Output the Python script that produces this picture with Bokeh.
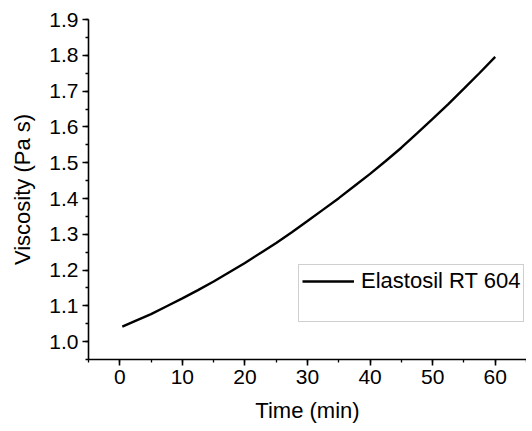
from bokeh.plotting import figure
from bokeh.models import (Range1d, SingleIntervalTicker, NumeralTickFormatter,
                          Legend, LegendItem)
from bokeh.embed import file_html
from bokeh.resources import INLINE

# Data
time_min = [0.4, 2.5, 5, 7.5, 10, 12.5, 15, 17.5, 20, 22.5, 25, 27.5, 30,
            32.5, 35, 37.5, 40, 42.5, 45, 47.5, 50, 52.5, 55, 57.5, 60]
viscosity = [1.042, 1.058, 1.077, 1.099, 1.121, 1.144, 1.168, 1.194, 1.220,
             1.248, 1.276, 1.306, 1.337, 1.369, 1.401, 1.435, 1.469, 1.505,
             1.542, 1.582, 1.623, 1.664, 1.707, 1.751, 1.796]
series_name = "Elastosil RT 604"

FONT = "Liberation Sans"

p = figure(width=526, height=431, output_backend="svg", toolbar_location=None,
           x_range=Range1d(-5, 65.001), y_range=Range1d(0.95, 1.9005),
           min_border_left=88, min_border_right=0, min_border_top=19,
           min_border_bottom=72)
p.outline_line_color = None
p.grid.visible = False
p.background_fill_color = "white"
p.border_fill_color = "white"

main = p.line(time_min, viscosity, line_color="black", line_width=2.4)
dummy = p.line(x=[], y=[], line_alpha=0)

p.xaxis.ticker = SingleIntervalTicker(interval=10, num_minor_ticks=2)
p.yaxis.ticker = SingleIntervalTicker(interval=0.1, num_minor_ticks=2)
p.yaxis.formatter = NumeralTickFormatter(format="0.0")

p.xaxis.axis_label = "Time (min)"
p.yaxis.axis_label = "Viscosity (Pa s)"

for ax in (p.xaxis[0], p.yaxis[0]):
    ax.axis_line_color = "black"
    ax.axis_line_width = 1.6
    ax.major_tick_line_color = "black"
    ax.major_tick_line_width = 1.6
    ax.minor_tick_line_color = "black"
    ax.minor_tick_line_width = 1.3
    ax.major_tick_out = 6
    ax.major_tick_in = 0
    ax.minor_tick_out = 3
    ax.minor_tick_in = 0
    ax.major_label_text_font = FONT
    ax.major_label_text_font_size = "21px"
    ax.major_label_text_color = "black"
    ax.axis_label_text_font = FONT
    ax.axis_label_text_font_size = "22px"
    ax.axis_label_text_font_style = "normal"
    ax.axis_label_text_color = "black"
    ax.major_label_standoff = 4
    ax.axis_label_standoff = 11

legend = Legend(items=[LegendItem(label=series_name, renderers=[main]),
                       LegendItem(label=" ", renderers=[dummy])],
                location=(210, 37), padding=3, spacing=0, margin=0,
                glyph_width=52, glyph_height=24, label_height=24,
                label_standoff=7,
                label_text_font=FONT, label_text_font_size="22px",
                label_text_color="black",
                border_line_color="#a0a0a0", border_line_width=1,
                background_fill_alpha=0)
p.add_layout(legend, "center")

open("out.html", "w").write(file_html(p, INLINE))
